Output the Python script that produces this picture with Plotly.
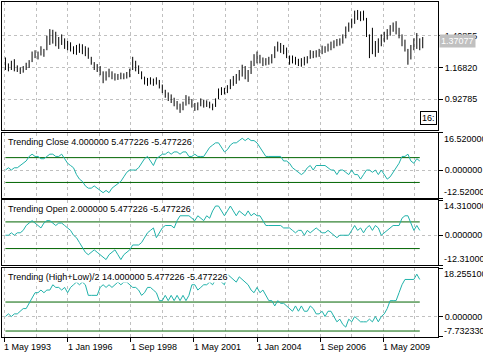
import plotly.graph_objects as go

# ---------------- data ----------------
close = [1.194, 1.169, 1.182, 1.194, 1.157, 1.144, 1.157, 1.182, 1.194, 1.257,
         1.270, 1.270, 1.295, 1.283, 1.358, 1.409, 1.396, 1.383, 1.358, 1.371,
         1.346, 1.333, 1.320, 1.295, 1.295, 1.320, 1.308, 1.295, 1.270, 1.207,
         1.169, 1.157, 1.144, 1.081, 1.106, 1.131, 1.106, 1.094, 1.094, 1.106,
         1.099, 1.106, 1.131, 1.207, 1.182, 1.157, 1.106, 1.068, 1.056, 1.068,
         1.056, 1.068, 1.043, 1.005, 0.968, 0.943, 0.930, 0.905, 0.880, 0.854,
         0.880, 0.930, 0.917, 0.892, 0.867, 0.867, 0.905, 0.892, 0.892, 0.880,
         0.867, 0.905, 0.980, 0.993, 0.993, 1.005, 1.043, 1.068, 1.081, 1.106,
         1.144, 1.131, 1.119, 1.169, 1.232, 1.257, 1.232, 1.207, 1.207, 1.220,
         1.232, 1.295, 1.333, 1.320, 1.308, 1.283, 1.220, 1.232, 1.220, 1.207,
         1.207, 1.220, 1.220, 1.270, 1.270, 1.270, 1.283, 1.308, 1.308, 1.320,
         1.333, 1.346, 1.358, 1.358, 1.383, 1.446, 1.472, 1.509, 1.534, 1.572,
         1.560, 1.572, 1.472, 1.320, 1.358, 1.308, 1.346, 1.371, 1.409, 1.421,
         1.459, 1.484, 1.484, 1.421, 1.371, 1.333, 1.245, 1.295, 1.346, 1.383,
         1.333, 1.371]
high = [1.245, 1.200, 1.220, 1.232, 1.185, 1.170, 1.180, 1.205, 1.225, 1.290,
        1.300, 1.290, 1.330, 1.310, 1.410, 1.460, 1.455, 1.440, 1.400, 1.420,
        1.390, 1.370, 1.360, 1.330, 1.340, 1.350, 1.345, 1.330, 1.320, 1.250,
        1.210, 1.195, 1.180, 1.140, 1.140, 1.160, 1.140, 1.125, 1.120, 1.130,
        1.125, 1.135, 1.160, 1.250, 1.220, 1.185, 1.140, 1.100, 1.090, 1.095,
        1.085, 1.095, 1.075, 1.040, 1.000, 0.980, 0.965, 0.940, 0.915, 0.895,
        0.910, 0.960, 0.950, 0.930, 0.900, 0.905, 0.935, 0.925, 0.920, 0.910,
        0.895, 0.935, 1.010, 1.020, 1.015, 1.035, 1.080, 1.105, 1.120, 1.150,
        1.190, 1.180, 1.150, 1.220, 1.270, 1.290, 1.265, 1.245, 1.240, 1.250,
        1.270, 1.330, 1.365, 1.355, 1.340, 1.320, 1.260, 1.260, 1.250, 1.235,
        1.240, 1.250, 1.255, 1.300, 1.295, 1.300, 1.310, 1.335, 1.330, 1.350,
        1.365, 1.375, 1.385, 1.390, 1.420, 1.480, 1.510, 1.540, 1.600, 1.605,
        1.595, 1.600, 1.545, 1.420, 1.470, 1.370, 1.390, 1.420, 1.440, 1.460,
        1.490, 1.510, 1.520, 1.470, 1.420, 1.380, 1.310, 1.340, 1.390, 1.430,
        1.390, 1.400]
low = [1.150, 1.140, 1.150, 1.140, 1.135, 1.120, 1.130, 1.150, 1.165, 1.210,
       1.240, 1.230, 1.260, 1.250, 1.300, 1.340, 1.350, 1.330, 1.310, 1.340,
       1.310, 1.300, 1.290, 1.270, 1.265, 1.280, 1.270, 1.255, 1.235, 1.190,
       1.150, 1.135, 1.110, 1.050, 1.070, 1.095, 1.080, 1.070, 1.075, 1.080,
       1.080, 1.085, 1.095, 1.150, 1.140, 1.120, 1.080, 1.040, 1.030, 1.040,
       1.030, 1.040, 1.010, 0.975, 0.940, 0.915, 0.900, 0.875, 0.850, 0.825,
       0.845, 0.880, 0.890, 0.865, 0.840, 0.845, 0.875, 0.865, 0.870, 0.860,
       0.845, 0.870, 0.930, 0.960, 0.965, 0.975, 1.005, 1.030, 1.045, 1.070,
       1.100, 1.080, 1.060, 1.120, 1.180, 1.200, 1.200, 1.180, 1.185, 1.190,
       1.200, 1.240, 1.290, 1.280, 1.270, 1.240, 1.190, 1.200, 1.190, 1.180,
       1.175, 1.185, 1.200, 1.235, 1.240, 1.245, 1.250, 1.270, 1.280, 1.290,
       1.300, 1.315, 1.330, 1.335, 1.350, 1.390, 1.440, 1.470, 1.500, 1.530,
       1.520, 1.525, 1.400, 1.240, 1.270, 1.250, 1.280, 1.330, 1.360, 1.380,
       1.410, 1.440, 1.420, 1.390, 1.330, 1.290, 1.190, 1.230, 1.300, 1.310,
       1.300, 1.315]
current_price = 1.37077

close_trend = [0, 1, 0, 1, 1, 2, 3, 4, 6, 7,
               6, 6, 5, 5, 6, 7, 7, 6, 6, 7,
               5, 3, 2, 1, -2, -4, -5, -7,
               -8, -8, -7, -8,
               -9, -10, -9, -10, -8, -7, -6, -5, -3, -1, 0,
               0, 0, 1, 3, 5, 6, 4, 2,
               5, 6, 7, 7,
               8, 7, 8, 8, 7, 8, 8, 6, 6,
               7, 6, 6, 6, 8,
               10, 11, 12, 12, 10, 8,
               9, 11, 12, 12, 13, 14, 13, 14, 13, 13,
               12, 10, 8, 6,
               6, 6, 6, 6, 6,
               4, 4, 3, 1,
               0, -1, -2, -1,
               1, 2, 0, 2, 2, 2, 2, 1, 0, 0,
               -2, 0, 0, -1, -2, 0, -2, -2, -4, -2,
               0, 0, -1, 0, -2, 0, -2, -4,
               -3, -1, 1, 3,
               6, 6, 7,
               4, 3, 5, 4]
open_trend = [0, 0, 1, 0, 1,
              1, 2, 4, 5, 6,
              5, 4, 3, 5, 6, 6, 5, 4, 5, 5, 4,
              3, 2, 0, -1, -3, -5, -7,
              -8, -7, -6, -7, -8, -9, -10, -8, -7, -6, -8, -10, -8, -7, -6,
              -4, -4, -4, -3,
              -1, 1, 2, 3,
              -1, 1,
              3, 4, 4, 4, 3,
              6, 8,
              8, 8, 8, 7,
              6, 8, 7, 6, 8, 7,
              10, 12,
              12, 10, 8,
              10, 12,
              10, 8, 10, 9, 8, 10, 8, 9, 8, 8,
              6, 4,
              4, 4, 4, 4, 4,
              3, 3, 3, 2,
              1, 2, 2, 0,
              2, 1, 2, 3, 2, 1, 1, 2, 1, 0,
              -1, 0, 0, 0, 0,
              2, 4, 2, 3,
              1, 3, 4, 2, 4, 3,
              0, 1, 2,
              3, 4, 4, 4,
              7, 8, 8,
              5, 2, 4, 2]
hl_trend = [0, 1, 0, 1,
            1, 2, 3, 3,
            5, 7, 9,
            9, 10, 9, 10, 10,
            12, 11, 11, 10, 11, 9, 11,
            12, 13, 12, 13, 12,
            8, 8, 8, 8,
            11, 12, 11, 12, 11, 12, 13, 12,
            13, 13, 12,
            11, 11, 10,
            8, 9,
            11, 11, 10,
            9, 6, 6,
            8, 6, 8,
            6, 8, 6, 8, 6, 8,
            12, 12,
            10, 11, 12, 12,
            13, 12, 14, 14, 13, 12,
            16, 15,
            14, 13, 15, 14, 13, 12,
            10, 9, 11, 9, 10,
            8, 6,
            6, 4, 6, 5,
            5, 4,
            3, 2, 4, 2, 4, 2, 2, 4, 3,
            1, 1, 2, 0,
            2, 2,
            0, -2, -1, -3,
            -4,
            -1, -2, 0, -1,
            -2, -2, -2, -1, -2, 0, -2,
            0, 1, 3, 6,
            6, 6,
            9, 12,
            14, 14, 14, 14,
            16, 14]
level = 5.477226

date_labels = ["1 May 1993", "1 Jan 1996", "1 Sep 1998", "1 May 2001",
               "1 Jan 2004", "1 Sep 2006", "1 May 2009"]
main_ticks = [0.92785, 1.16820, 1.40855]
sub_titles = ["Trending Close 4.000000 5.477226 -5.477226",
              "Trending Open 2.000000 5.477226 -5.477226",
              "Trending (High+Low)/2 14.000000 5.477226 -5.477226"]
sub_ranges = [(-12.52, 16.52), (-12.31, 14.31), (-7.73233, 18.2551)]
sub_top_labels = ["16.520000", "14.310000", "18.255100"]
sub_bottom_labels = ["-12.520000", "-12.310000", "-7.732330"]
sub_series = [close_trend, open_trend, hl_trend]

# ---------------- layout constants ----------------
W, H = 483, 354
ML, MR, MT, MB = 1, 40, 1, 17
bars_per_label = 64 / 3.0
half_px = 1 / 6.0
x_range = [-1 - half_px, 146.33 - half_px]
label_pos = [-1 / 3.0 + k * bars_per_label for k in range(len(date_labels))]
half_pos = [p + bars_per_label / 2 for p in label_pos]

plot_h = H - MT - MB
def dom(top_px, bot_px):
    return [1 - (bot_px - MT) / plot_h, 1 - (top_px - MT) / plot_h]

domains = [dom(1, 129), dom(132, 198), dom(200, 265), dom(268, 337)]

FONT = "Liberation Sans, Arial, sans-serif"
GRID = "#c0c0c0"
TEAL = "#20b2aa"
GREEN = "#006400"

opens = [close[0]] + close[:-1]
xs = list(range(len(close)))

fig = go.Figure()
fig.add_trace(go.Ohlc(
    x=xs, open=opens, high=high, low=low, close=close,
    increasing=dict(line=dict(color="black", width=1)),
    decreasing=dict(line=dict(color="black", width=1)),
    tickwidth=0, xaxis="x", yaxis="y", hoverinfo="skip", showlegend=False))

for k, ser in enumerate(sub_series):
    ax = str(k + 2)
    n = len(ser)
    for lv in (level, -level):
        fig.add_trace(go.Scatter(x=[0, n - 1], y=[lv, lv], mode="lines",
                                 line=dict(color=GREEN, width=1),
                                 xaxis="x" + ax, yaxis="y" + ax,
                                 showlegend=False, hoverinfo="skip"))
    fig.add_trace(go.Scatter(x=list(range(n)), y=ser, mode="lines",
                             line=dict(color=TEAL, width=1),
                             xaxis="x" + ax, yaxis="y" + ax,
                             showlegend=False, hoverinfo="skip"))

def xaxis_cfg(k, bottom=False):
    return dict(
        domain=[0, 1], anchor="y" if k == 0 else "y" + str(k + 1),
        range=x_range, showline=True, mirror=True, linecolor="black", linewidth=1,
        tickmode="array", tickvals=label_pos, showticklabels=False,
        ticks="outside" if bottom else "", ticklen=4, tickcolor="black",
        showgrid=True, gridcolor=GRID, gridwidth=1, griddash="3px,3px",
        minor=dict(tickmode="array", tickvals=half_pos, showgrid=True,
                   gridcolor=GRID, gridwidth=1, griddash="3px,3px", ticks=""),
        zeroline=False, fixedrange=True, rangeslider=dict(visible=False))

layout = dict(
    width=W, height=H, margin=dict(l=ML, r=MR, t=MT, b=MB),
    paper_bgcolor="white", plot_bgcolor="white",
    font=dict(family=FONT, size=9, color="black"),
    showlegend=False, dragmode=False,
)
for k in range(4):
    key = "xaxis" if k == 0 else "xaxis" + str(k + 1)
    layout[key] = xaxis_cfg(k, bottom=(k == 3))

layout["yaxis"] = dict(
    domain=domains[0], anchor="x", side="right",
    range=[0.6982, 1.6655], tickmode="array", tickvals=main_ticks,
    ticktext=["%.5f" % v for v in main_ticks],
    ticks="outside", ticklen=4, tickcolor="black",
    showline=True, mirror=True, linecolor="black", linewidth=1,
    showgrid=True, gridcolor=GRID, gridwidth=1, griddash="3px,3px",
    zeroline=False, fixedrange=True)
for k in range(3):
    lo, hi = sub_ranges[k]
    layout["yaxis" + str(k + 2)] = dict(
        domain=domains[k + 1], anchor="x" + str(k + 2), side="right",
        range=[lo, hi], tickmode="array", tickvals=[lo, 0, hi],
        ticktext=["", "0.000000", ""],
        ticks="outside", ticklen=4, tickcolor="black",
        showline=True, mirror=True, linecolor="black", linewidth=1,
        showgrid=True, gridcolor=GRID, gridwidth=1, griddash="3px,3px",
        zeroline=False, fixedrange=True)

ann = []
# current price box
ann.append(dict(xref="paper", x=1, xanchor="left", xshift=1,
                yref="y", y=current_price, yanchor="middle",
                text=f"{current_price:.5f}", showarrow=False,
                bgcolor="#c0c0c0", font=dict(color="white", size=9, family=FONT),
                borderpad=1))
# time label box
ann.append(dict(xref="paper", x=1, xanchor="right", xshift=-1,
                yref="y domain", y=0, yanchor="bottom", yshift=5,
                text="16:", showarrow=False, bgcolor="white",
                bordercolor="black", borderwidth=1, borderpad=1,
                font=dict(size=9, family=FONT)))
for k in range(3):
    ya = "y" + str(k + 2)
    lo, hi = sub_ranges[k]
    ann.append(dict(xref="paper", x=0, xanchor="left", xshift=5,
                    yref=ya + " domain", y=1, yanchor="top", yshift=-3,
                    text=sub_titles[k], showarrow=False, bgcolor="white",
                    borderpad=0, font=dict(size=9, family=FONT)))
    ann.append(dict(xref="paper", x=1, xanchor="left", xshift=4,
                    yref=ya, y=hi, yanchor="top", yshift=1,
                    text=sub_top_labels[k], showarrow=False,
                    font=dict(size=9, family=FONT)))
    ann.append(dict(xref="paper", x=1, xanchor="left", xshift=4,
                    yref=ya, y=lo, yanchor="bottom", yshift=-1,
                    text=sub_bottom_labels[k], showarrow=False,
                    font=dict(size=9, family=FONT)))
for lab, pos in zip(date_labels, label_pos):
    ann.append(dict(xref="x4", x=pos, xanchor="left", xshift=-2,
                    yref="paper", y=0, yanchor="top", yshift=-3,
                    text=lab, showarrow=False,
                    font=dict(size=9, family=FONT)))
layout["annotations"] = ann

fig.update_layout(**layout)
fig.write_html("out.html", config={"displayModeBar": False, "staticPlot": True})
